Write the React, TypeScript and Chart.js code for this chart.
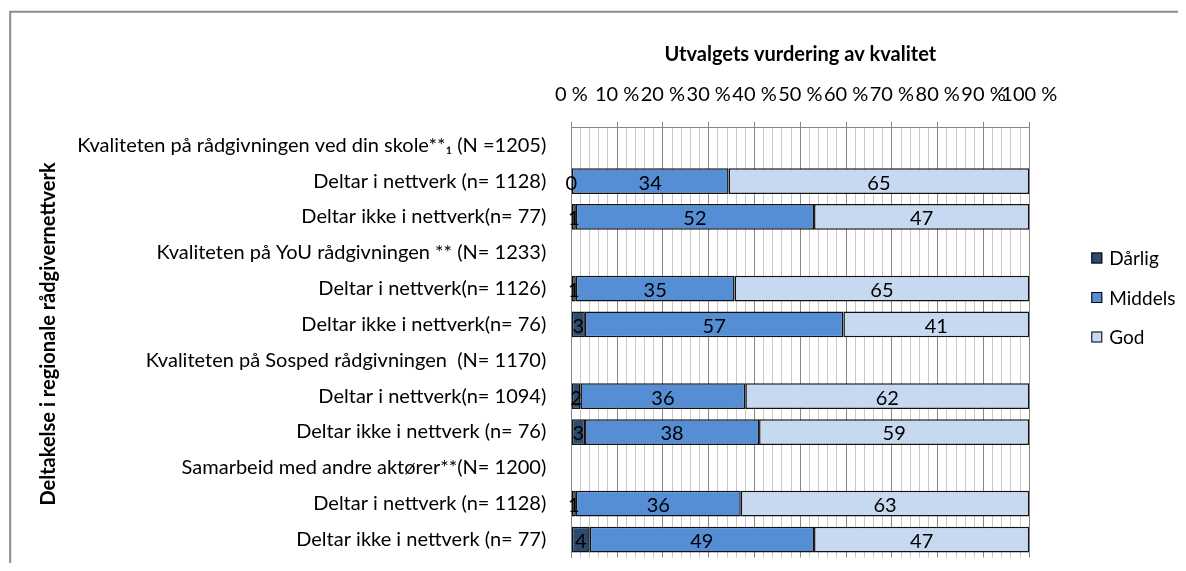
import React, { useEffect, useRef } from "react";
import { Chart, registerables } from "chart.js";

Chart.register(...registerables);

const categories: string[] = [
  "Kvaliteten på rådgivningen ved din skole**₁ (N =1205)",
  "Deltar i nettverk (n= 1128)",
  "Deltar ikke i nettverk(n= 77)",
  "Kvaliteten på YoU rådgivningen ** (N= 1233)",
  "Deltar i nettverk(n= 1126)",
  "Deltar ikke i nettverk(n= 76)",
  "Kvaliteten på Sosped rådgivningen  (N= 1170)",
  "Deltar i nettverk(n= 1094)",
  "Deltar ikke i nettverk (n= 76)",
  "Samarbeid med andre aktører**(N= 1200)",
  "Deltar i nettverk (n= 1128)",
  "Deltar ikke i nettverk (n= 77)",
];

const darlig: (number | null)[] = [null, 0, 1, null, 1, 3, null, 2, 3, null, 1, 4];
const middels: (number | null)[] = [null, 34, 52, null, 35, 57, null, 36, 38, null, 36, 49];
const god: (number | null)[] = [null, 65, 47, null, 65, 41, null, 62, 59, null, 63, 47];

const seriesNames = ["Dårlig", "Middels", "God"];
const seriesColors = ["#2d4a6f", "#558ed5", "#c6d9f1"];
const xTitle = "Utvalgets vurdering av kvalitet";
const yTitle = "Deltakelse i regionale rådgivernettverk";
const majorStep = 10;
const minorStep = 2;

const FONT = "Lato, 'Open Sans', sans-serif";
const FS = 20;
const LEGEND_FS = 19;

const rawSeries = [darlig, middels, god];
const totals = categories.map((_, i) =>
  rawSeries.reduce((s, arr) => s + (arr[i] ?? 0), 0)
);
const shares = rawSeries.map((arr) =>
  arr.map((v, i) => (v == null || !totals[i] ? null : (v / totals[i]) * 100))
);

const W = 1170;
const H = 555;

const extrasPlugin = {
  id: "extras",
  beforeDraw(chart: any) {
    const ctx = chart.ctx;
    ctx.save();
    ctx.fillStyle = "#ffffff";
    ctx.fillRect(0, 0, chart.width, chart.height);
    ctx.strokeStyle = "#8c8c8c";
    ctx.lineWidth = 2;
    ctx.beginPath();
    ctx.moveTo(2.2, chart.height);
    ctx.lineTo(2.2, 3.8);
    ctx.lineTo(chart.width, 3.8);
    ctx.stroke();
    ctx.restore();
  },
  afterDatasetsDraw(chart: any) {
    const ctx = chart.ctx;
    ctx.save();
    ctx.fillStyle = "#000";
    ctx.font = `${FS}px ${FONT}`;
    ctx.textAlign = "center";
    ctx.textBaseline = "middle";
    rawSeries.forEach((arr, di) => {
      const meta = chart.getDatasetMeta(di);
      meta.data.forEach((bar: any, j: number) => {
        const v = arr[j];
        if (v == null) return;
        const p = bar.getProps(["x", "base", "y"], true);
        ctx.fillText(String(v), (p.x + p.base) / 2, p.y + 2);
      });
    });
    ctx.restore();
  },
  afterDraw(chart: any) {
    const ctx = chart.ctx;
    const area = chart.chartArea;
    ctx.save();
    ctx.font = `bold ${FS}px ${FONT}`;
    ctx.fillStyle = "#000";
    ctx.textAlign = "center";
    ctx.textBaseline = "middle";
    ctx.translate(41, 326);
    ctx.rotate(-Math.PI / 2);
    ctx.fillText(yTitle, 0, 0);
    ctx.restore();

    ctx.save();
    ctx.font = `${LEGEND_FS}px ${FONT}`;
    ctx.textAlign = "left";
    ctx.textBaseline = "middle";
    const lx = area.right + 62;
    const ys = [250, 289.5, 329];
    seriesNames.forEach((name, i) => {
      const y = ys[i];
      ctx.fillStyle = seriesColors[i];
      ctx.fillRect(lx, y - 5.5, 11, 11);
      ctx.strokeStyle = "#000";
      ctx.lineWidth = 1;
      ctx.strokeRect(lx + 0.5, y - 5, 10, 10);
      ctx.fillStyle = "#000";
      ctx.fillText(name, lx + 18, y + 1);
    });
    ctx.restore();
  },
};

export default function App() {
  const ref = useRef<HTMLCanvasElement | null>(null);
  useEffect(() => {
    if (!ref.current) return;
    const chart = new Chart(ref.current, {
      type: "bar",
      data: {
        labels: categories,
        datasets: seriesNames.map((name, i) => ({
          label: name,
          data: shares[i] as any,
          backgroundColor: seriesColors[i],
          borderColor: "#111",
          borderWidth: 1.5,
          borderSkipped: false,
          categoryPercentage: 1,
          barPercentage: 0.717,
        })),
      },
      options: {
        indexAxis: "y",
        animation: false,
        responsive: true,
        maintainAspectRatio: false,
        layout: { padding: { left: 0, right: W - 1021.3, top: 0, bottom: H - 549.5 } },
        plugins: {
          legend: { display: false },
          tooltip: { enabled: false },
        },
        scales: {
          x: {
            position: "top",
            stacked: true,
            min: 0,
            max: 100,
            afterFit: (s: any) => {
              s.height = 119.3;
            },
            ticks: {
              stepSize: minorStep,
              autoSkip: false,
              maxRotation: 0,
              padding: 15,
              color: "#000",
              font: { family: FONT, size: FS },
              callback: (v: any) => (Number(v) % majorStep === 0 ? `${v} %` : ""),
            },
            grid: {
              color: (c: any) =>
                c.tick && c.tick.value % majorStep === 0 ? "#868686" : "#c8c8c8",
              tickColor: (c: any) =>
                c.tick && c.tick.value % majorStep === 0 ? "#868686" : "rgba(0,0,0,0)",
              tickLength: 5.5,
              lineWidth: 1,
            },
            border: { display: true, color: "#868686", width: 1 },
            title: {
              display: true,
              text: xTitle,
              color: "#000",
              font: { family: FONT, size: FS, weight: "bold" },
              padding: { top: 34.5, bottom: 0 },
            },
          },
          y: {
            stacked: true,
            afterFit: (s: any) => {
              s.width = 563.3;
              s.paddingTop = 0;
              s.paddingBottom = 0;
            },
            ticks: {
              color: "#000",
              padding: 25,
              autoSkip: false,
              font: { family: FONT, size: FS },
            },
            grid: { display: false, drawTicks: false },
            border: { display: true, color: "#868686", width: 1 },
          },
        },
      },
      plugins: [extrasPlugin],
    } as any);
    return () => chart.destroy();
  }, []);
  return (
    <div style={{ position: "relative", width: W, height: H }}>
      <canvas ref={ref} />
    </div>
  );
}
